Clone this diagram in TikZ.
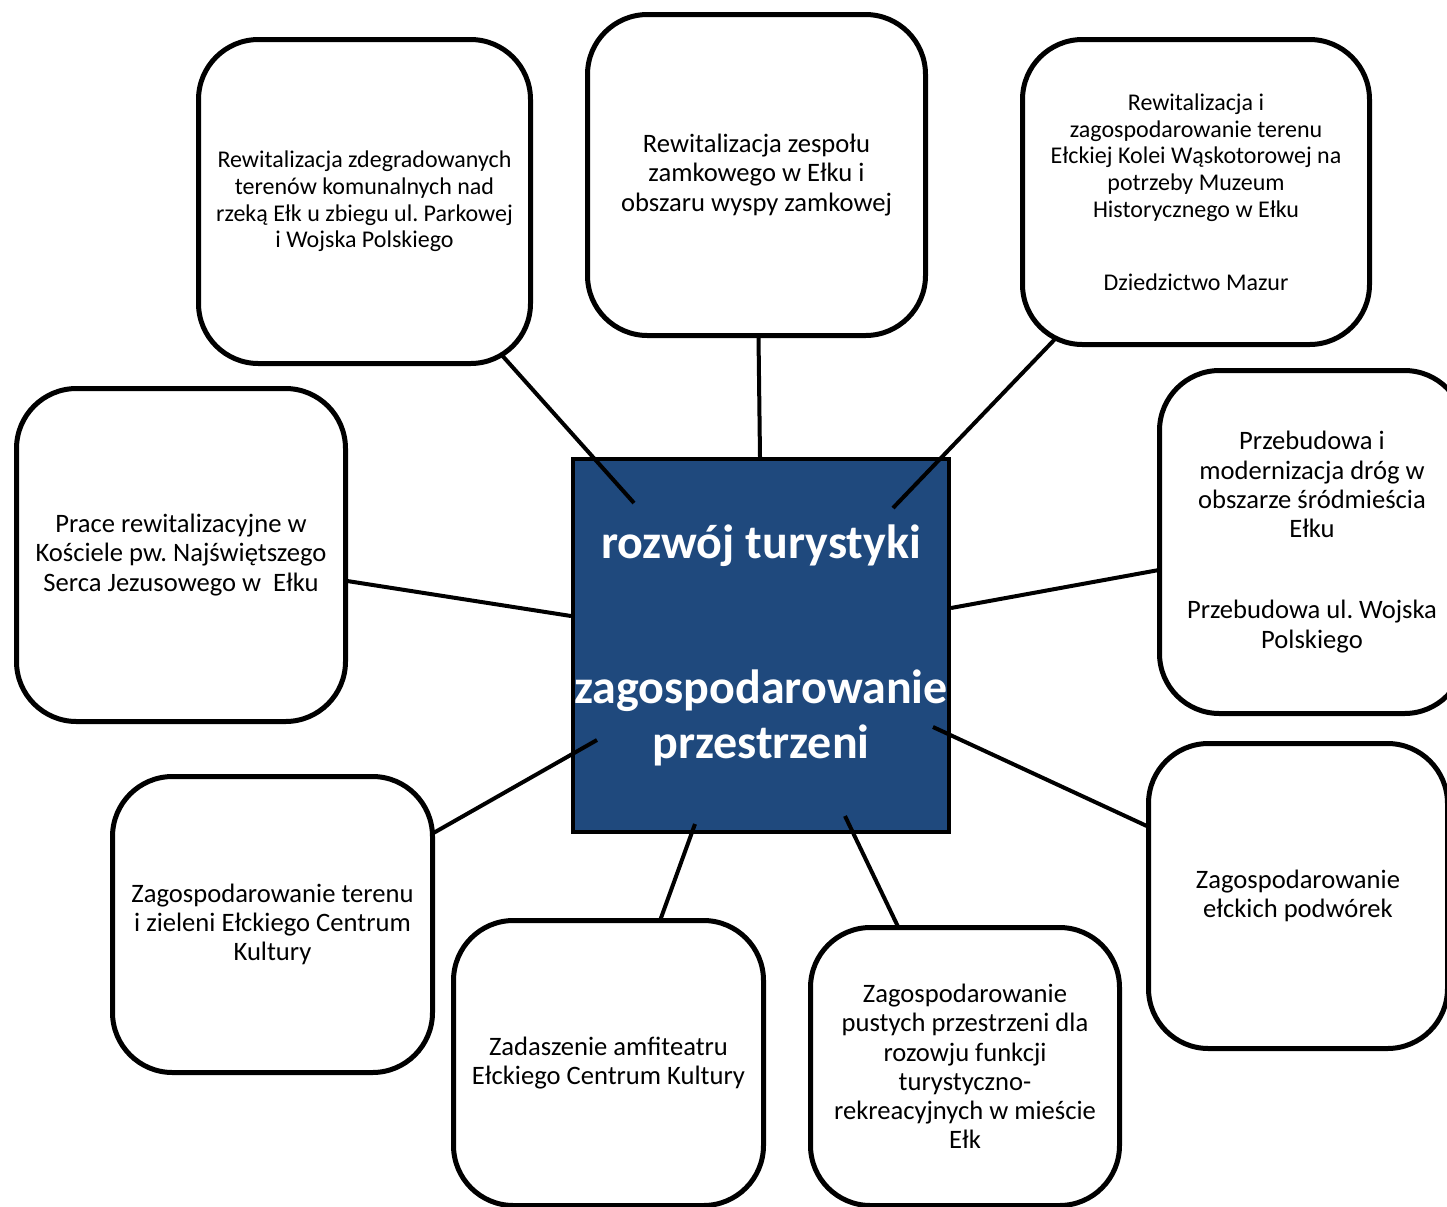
\documentclass[tikz,border=0pt]{standalone}
\usepackage{fontspec}
\setmainfont{Carlito}
\frenchspacing
\pgfdeclarelayer{bg}
\pgfdeclarelayer{mid}
\pgfsetlayers{bg,mid,main}
\definecolor{centerblue}{HTML}{1F497D}
\begin{document}
\begin{tikzpicture}[x=0.5pt,y=-0.5pt,
  box/.style={draw=black,line width=2.5pt,rounded corners=30pt,fill=white,align=center,inner sep=0pt,font=\fontsize{13.3}{14.65}\selectfont},
  smalltext/.style={font=\fontsize{12}{13.4}\selectfont},
  link/.style={draw=black,line width=2pt},
  hub/.style={draw=black,line width=2pt,fill=centerblue,align=center,inner sep=0pt,text=white,font=\fontsize{24}{27.5}\selectfont\bfseries}]
\useasboundingbox (0,0) rectangle (1447,1206);
\clip (0,0) rectangle (1447,1206);

\begin{pgfonlayer}{bg}
\fill[white] (0,0) rectangle (1447,1206);
\node[hub,minimum width=188pt,minimum height=186.5pt] (c) at (761,645.5)
  {rozwój turystyki\\[45pt]zagospodarowanie\\przestrzeni};
\end{pgfonlayer}

\node[box,smalltext,minimum width=166pt,minimum height=162pt] (tl) at (364.5,201.5)
  {Rewitalizacja zdegradowanych\\terenów komunalnych nad\\rzeką Ełk u zbiegu ul. Parkowej\\i Wojska Polskiego};
\node[box,minimum width=169pt,minimum height=160.5pt] (tm) at (756.5,175)
  {Rewitalizacja zespołu\\zamkowego w Ełku i\\obszaru wyspy zamkowej};
\node[box,smalltext,minimum width=173.5pt,minimum height=152.5pt] (tr) at (1196,192)
  {Rewitalizacja i\\zagospodarowanie terenu\\Ełckiej Kolei Wąskotorowej na\\potrzeby Muzeum\\Historycznego w Ełku\\[23pt]Dziedzictwo Mazur};
\node[box,minimum width=152.5pt,minimum height=171.5pt] (r) at (1312,542)
  {Przebudowa i\\modernizacja dróg w\\obszarze śródmieścia\\Ełku\\[26pt]Przebudowa ul. Wojska\\Polskiego};
\node[box,minimum width=164.5pt,minimum height=166.5pt] (l) at (181,555)
  {Prace rewitalizacyjne w\\Kościele pw. Najświętszego\\Serca Jezusowego w\ \ Ełku};
\node[box,minimum width=149.5pt,minimum height=152.5pt] (rl) at (1298,896)
  {Zagospodarowanie\\ełckich podwórek};
\node[box,minimum width=160pt,minimum height=148pt] (bl) at (272.5,924.5)
  {Zagospodarowanie terenu\\i zieleni Ełckiego Centrum\\Kultury};
\node[box,minimum width=155pt,minimum height=142.5pt] (bml) at (608.5,1063)
  {Zadaszenie amfiteatru\\Ełckiego Centrum Kultury};
\node[box,minimum width=154.5pt,minimum height=139pt] (bmr) at (965,1066.5)
  {Zagospodarowanie\\pustych przestrzeni dla\\rozowju funkcji\\turystyczno-\\rekreacyjnych w mieście\\Ełk};

\coordinate (ctl) at (634,503);
\coordinate (ctm) at (760,457);
\coordinate (ctr) at (893,508);
\coordinate (cl) at (571,616);
\coordinate (cr) at (951,608);
\coordinate (cbl) at (597,740);
\coordinate (crl) at (933,727);
\coordinate (cbml) at (695,824);
\coordinate (cbmr) at (845,816);

\begin{pgfonlayer}{mid}
\draw[link] (tl.center) -- (ctl);
\draw[link] (tm.center) -- (ctm);
\draw[link] (tr.center) -- (ctr);
\draw[link] (l.center) -- (cl);
\draw[link] (r.center) -- (cr);
\draw[link] (bl.center) -- (cbl);
\draw[link] (rl.center) -- (crl);
\draw[link] (bml.center) -- (cbml);
\draw[link] (bmr.center) -- (cbmr);
\end{pgfonlayer}
\end{tikzpicture}
\end{document}
